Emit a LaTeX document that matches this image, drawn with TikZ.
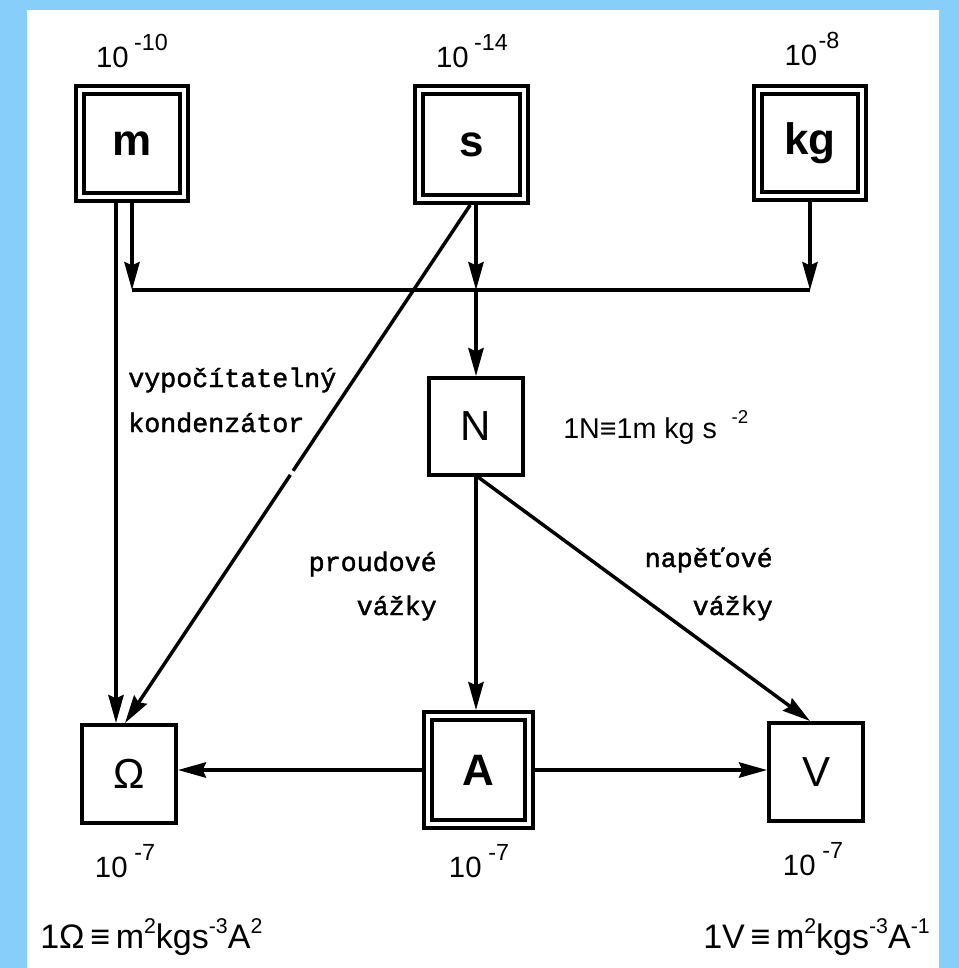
\documentclass[tikz,border=0pt]{standalone}
\usepackage{fontspec}
\setmainfont{Liberation Sans}
\newfontfamily\tw{Liberation Mono}[FakeBold=1.5]
\usetikzlibrary{arrows.meta,calc}
\definecolor{frameblue}{RGB}{135,206,250}
% raised exponent: #1 size, #2 raise, #3 text
\newcommand\ex[3]{\raisebox{#2}{\fontsize{#1}{#1}\selectfont #3}}
\begin{document}
\begin{tikzpicture}[x=0.75pt,y=-0.75pt,
  line/.style={line width=2.6pt},
  conn/.style={line, -{Stealth[length=21pt,width=11.5pt,inset=2.5pt]}},
  dbox/.style={draw, line width=3pt, double, double distance=3pt, inner sep=0pt,
    outer sep=4.5pt, font=\fontsize{33pt}{33pt}\selectfont\bfseries},
  sbox/.style={draw, line width=3pt, inner sep=0pt,
    font=\fontsize{31.5pt}{31.5pt}\selectfont},
  lbl/.style={anchor=base, inner sep=0pt, font=\fontsize{22pt}{22pt}\selectfont},
  note/.style={inner sep=0pt, font=\fontsize{20pt}{20pt}\selectfont\tw}]
% frame
\fill[frameblue] (0,0) rectangle (959,968);
\fill[white] (27,10) rectangle (939,968);
\useasboundingbox (0,0) rectangle (959,968);

% base units
\node[dbox, minimum width=78pt, minimum height=80.25pt] (m) at (132,143.5) {m};
\node[dbox, minimum width=78.75pt, minimum height=81.75pt] (s) at (471.5,144.5) {s};
\node[dbox, minimum width=78pt, minimum height=79.5pt] (kg) at (810,143) {kg};
\node[dbox, minimum width=75.75pt, minimum height=81pt] (A) at (478.5,770) {A};
% derived units
\node[sbox, minimum width=70.5pt, minimum height=72.75pt] (N) at (476,426.5) {N};
\node[sbox, minimum width=70.5pt, minimum height=73.5pt] (Omega) at (129,774) {Ω};
\node[sbox, minimum width=70.5pt, minimum height=73.5pt] (V) at (816,772) {V};

% uncertainties
\node[lbl] (lm) at (132,67) {10\hspace{4pt}\ex{17.5pt}{12.5pt}{-10}};
\node[lbl] (ls) at (472,67) {10\hspace{4pt}\ex{17.5pt}{12.5pt}{-14}};
\node[lbl] (lkg) at (812,65) {10\hspace{1pt}\ex{17.5pt}{12.5pt}{-8}};
\node[lbl] (lOmega) at (125,877) {10\hspace{5pt}\ex{17.5pt}{12.5pt}{-7}};
\node[lbl] (lA) at (479,877) {10\hspace{5pt}\ex{17.5pt}{12.5pt}{-7}};
\node[lbl] (lV) at (813,875) {10\hspace{5pt}\ex{17.5pt}{12.5pt}{-7}};

% definitions
\node[anchor=base west, inner sep=0pt, font=\fontsize{21.5pt}{21.5pt}\selectfont]
  (defN) at (563,438) {1N{\bfseries ≡}1m kg s\hspace{11pt}\ex{14pt}{11pt}{-2}};
\node[anchor=base west, inner sep=0pt, font=\fontsize{25.5pt}{25.5pt}\selectfont]
  (defOmega) at (40,948) {1Ω\,{\bfseries ≡}\,m\ex{16pt}{11pt}{2}kgs\ex{16pt}{11pt}{-3}A\ex{16pt}{11pt}{2}};
\node[anchor=base east, inner sep=0pt, font=\fontsize{25.5pt}{25.5pt}\selectfont]
  (defV) at (930,948) {1V\,{\bfseries ≡}\,m\ex{16pt}{11pt}{2}kgs\ex{16pt}{11pt}{-3}A\ex{16pt}{11pt}{-1}};

% method labels
\node[note, anchor=base west] (t1) at (128,387) {vypočítatelný};
\node[note, anchor=base west] (t2) at (128,432) {kondenzátor};
\node[note, anchor=base east] (t3) at (437,571) {proudové};
\node[note, anchor=base east] (t4) at (437,615) {vážky};
\node[note, anchor=base east] (t5) at (773,567) {napěťové};
\node[note, anchor=base east] (t6) at (773,615) {vážky};

% bus joining m, s and kg
\coordinate (busL) at (132,290);
\coordinate (busR) at (810,290);
\draw[line] (busL) -- (busR);
\draw[conn] (m.south) -- (m.south |- busL);
\draw[conn] (kg.south) -- (kg.south |- busR);
\draw[conn] (s.south -| N.north) -- (N.north |- busL);
\draw[conn] (N.north |- busL) -- (N.north);

% m straight down to the ohm
\draw[conn] ([xshift=-12pt]m.south) -- ([xshift=-12pt]m.south |- Omega.north);

% s to the ohm (calculable capacitor), line broken near the middle
\coordinate (sd) at ([xshift=-1pt]s.south);
\coordinate (od) at ([xshift=-3pt]Omega.north);
\draw[line] (sd) -- ($(sd)!0.513!(od)$);
\draw[conn] ($(sd)!0.521!(od)$) -- (od);

% N to A and V (balances)
\draw[conn] (N.south) -- (N.south |- A.north);
\draw[conn] ([xshift=1.5pt]N.south) -- ([xshift=-4.5pt]V.north);

% A to the ohm and the volt
\draw[conn] (A.west) -- (A.west -| Omega.east);
\draw[conn] (A.east) -- (A.east -| V.west);
\end{tikzpicture}
\end{document}
